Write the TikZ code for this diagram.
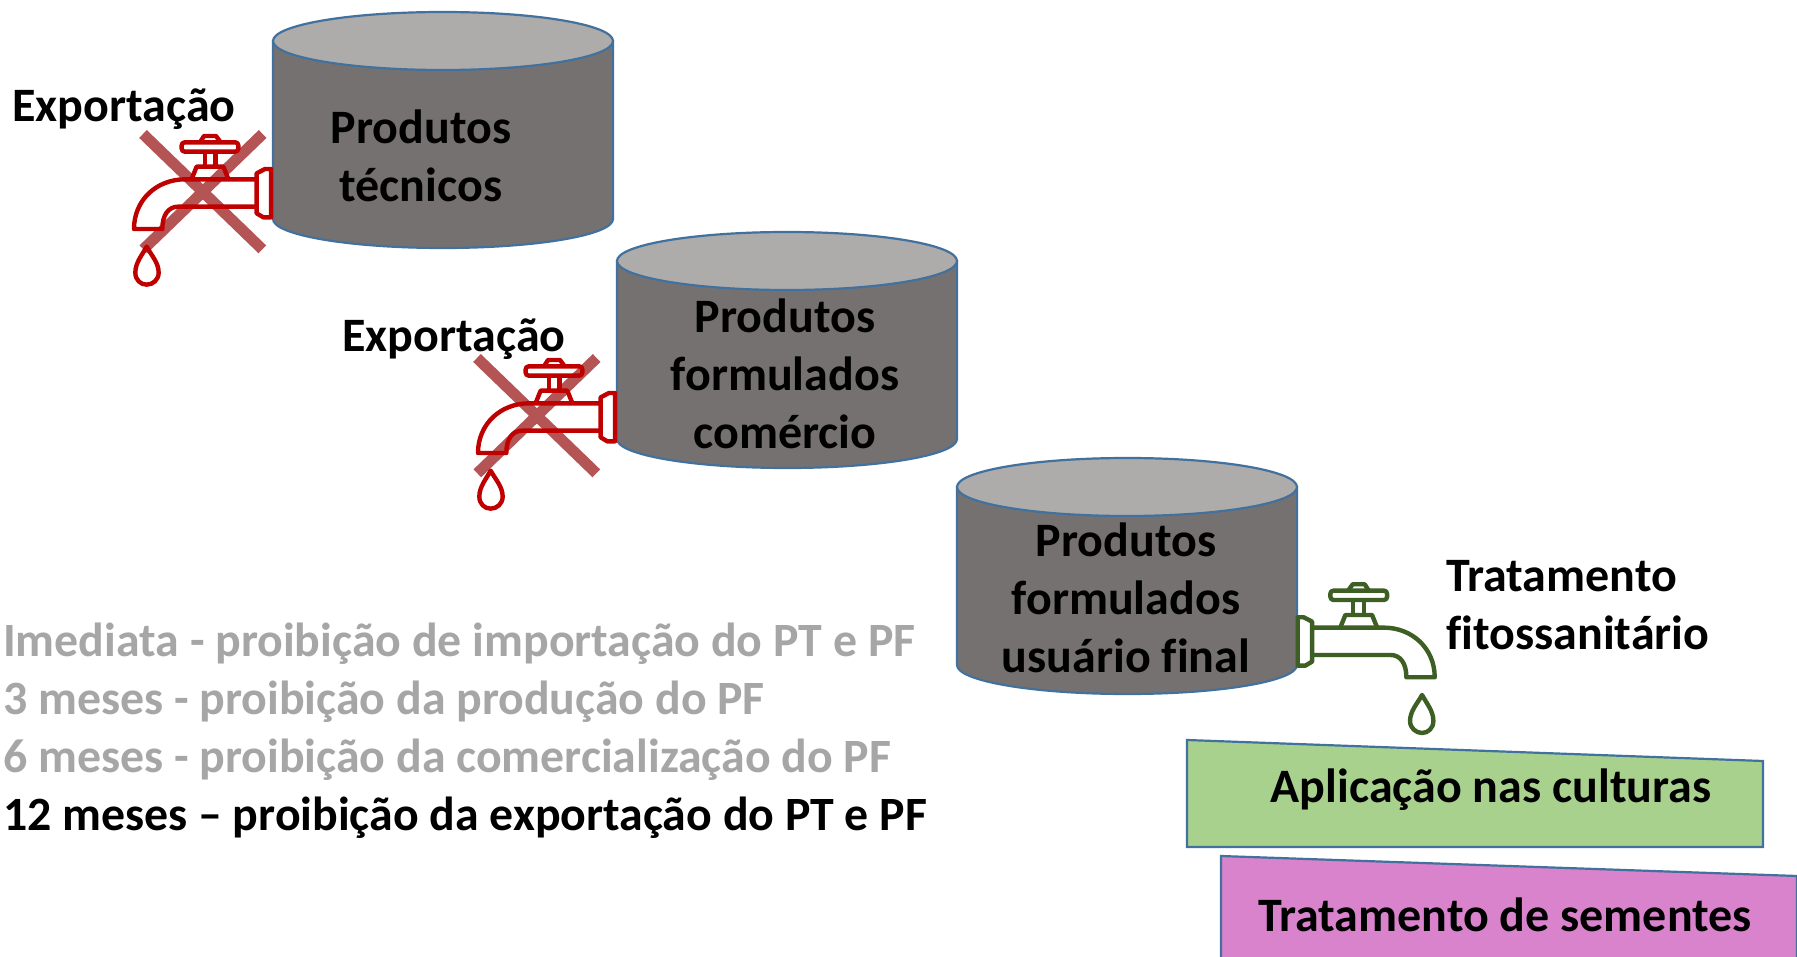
\documentclass[tikz,border=0pt]{standalone}
\usepackage{fontspec}
\setmainfont[Ligatures=NoCommon]{Carlito}
\definecolor{cylbody}{HTML}{767171}
\definecolor{cyltop}{HTML}{AEABAB}
\definecolor{cylline}{HTML}{41719C}
\definecolor{tapred}{HTML}{C00000}
\definecolor{tapgreen}{HTML}{3E5F24}
\definecolor{crossred}{HTML}{B45454}
\definecolor{boxgreen}{HTML}{A9D18E}
\definecolor{boxpurple}{HTML}{D883CB}
\definecolor{lightgrey}{HTML}{A6A6A6}
\tikzset{
  label text/.style={font=\fontsize{48}{58}\selectfont\bfseries, text=black, inner sep=0pt, align=center},
  legend text/.style={font=\fontsize{47.8}{58}\selectfont\bfseries, inner sep=0pt, anchor=base west},
  box edge/.style={draw=cylline, line width=2.2pt, line join=miter},
  tap line/.style={line width=4.4pt, line join=round},
  cross bar/.style={draw=crossred, line width=11pt}
}
% tank: x-left, x-right, top ellipse centre y, bottom ellipse centre y
\newcommand{\tank}[4]{%
  \pgfmathsetmacro{\tankrx}{(#2-#1)/2}
  \pgfmathsetmacro{\tankcx}{(#1+#2)/2}
  \draw[fill=cylbody, draw=cylline, line width=2.2pt]
    (#1,#3) -- (#1,#4) arc[start angle=180, end angle=360, x radius=\tankrx, y radius=-29] -- (#2,#3) -- cycle;
  \draw[fill=cyltop, draw=cylline, line width=2.2pt]
    (\tankcx,#3) ellipse[x radius=\tankrx, y radius=29];
}
% tap, drawn in the 3x coordinates of its own crop
\newcommand{\tap}[4]{%
  \begin{scope}[shift={(#1,#2)}, xscale=#3, x=0.3333pt, y=-0.3333pt]
    \draw[tap line, draw=#4, rounded corners=3pt] (215,97) rectangle (385,125);
    \draw[tap line, draw=#4] (270,97) -- (282,78) -- (318,78) -- (332,97);
    \draw[tap line, draw=#4] (285,125) -- (285,170) (317,125) -- (317,170);
    \draw[tap line, draw=#4] (245,207) -- (260,170) -- (340,170) -- (355,207);
    \draw[tap line, draw=#4] (437,208) -- (225,208) .. controls (140,208) and (72,270) .. (72,357)
      -- (157,357) .. controls (157,315) and (175,290) .. (205,290) -- (437,290);
    \draw[tap line, draw=#4] (440,190) -- (465,177) -- (483,177) -- (483,322) -- (460,322) -- (440,310) -- cycle;
    \draw[tap line, draw=#4] (110,410) .. controls (96,436) and (76,458) .. (76,488)
      .. controls (76,510) and (92,524) .. (110,524)
      .. controls (128,524) and (146,510) .. (146,488)
      .. controls (146,458) and (124,436) .. (110,410) -- cycle;
  \end{scope}
}
\newcommand{\crossmark}[2]{%
  \begin{scope}[shift={(#1,#2)}, x=0.3333pt, y=-0.3333pt]
    \draw[cross bar] (99,72) -- (457,418);
    \draw[cross bar] (458,72) -- (100,418);
  \end{scope}
}
\begin{document}
\begin{tikzpicture}[x=1pt, y=-1pt]
  \useasboundingbox (0,0) rectangle (1797,957);
  \fill[white] (0,0) rectangle (1797,957);

  \tank{273}{613}{41}{219}
  \tank{617}{957}{261}{439}
  \tank{957}{1297}{487}{665}

  \crossmark{110}{110}
  \tap{110}{110}{1}{tapred}
  \crossmark{444}{334}
  \tap{454}{334}{1}{tapred}
  \tap{1458.7}{558.3}{-1}{tapgreen}

  \draw[box edge, fill=boxgreen] (1187,740) -- (1763,761) -- (1763,847) -- (1187,847) -- cycle;
  \draw[box edge, fill=boxpurple] (1221,856) -- (1797,876) -- (1797,960) -- (1221,960) -- cycle;

  \node[label text] (t1) at (421,156) {Produtos\\técnicos};
  \node[label text] (t2) at (785,374) {Produtos\\formulados\\comércio};
  \node[label text] (t3) at (1126,598) {Produtos\\formulados\\usuário final};
  \node[label text, anchor=west] (e1) at (12,109) {Exportação};
  \node[label text, anchor=west] (e2) at (342,339) {Exportação};
  \node[label text, anchor=west, align=left] (f) at (1446,605) {Tratamento\\fitossanitário};
  \node[label text] (a) at (1491,790) {Aplicação nas culturas};
  \node[label text] (s) at (1505,915) {Tratamento de sementes};

  \node[legend text, text=lightgrey] (l1) at (3,656) {Imediata - proibição de importação do PT e PF};
  \node[legend text, text=lightgrey] (l2) at (3,714) {3 meses - proibição da produção do PF};
  \node[legend text, text=lightgrey] (l3) at (3,772) {6 meses - proibição da comercialização do PF};
  \node[legend text, text=black] (l4) at (3,830) {12 meses – proibição da exportação do PT e PF};
\end{tikzpicture}
\end{document}
